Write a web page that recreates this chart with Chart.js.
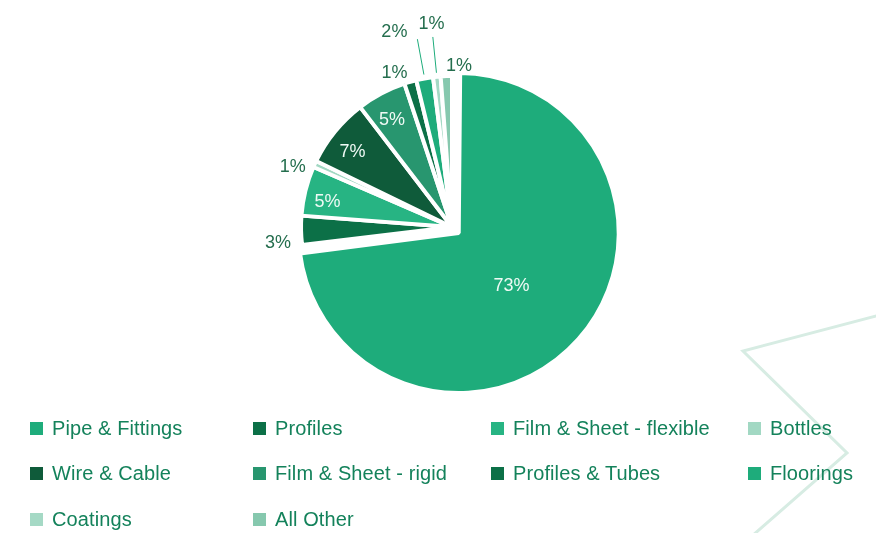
<!DOCTYPE html>
<html>
<head>
<meta charset="utf-8">
<title>PVC applications</title>
<script src="https://cdn.jsdelivr.net/npm/chart.js@4.4.1/dist/chart.umd.min.js"></script>
<style>
  html, body { margin: 0; padding: 0; background: #fff; }
  body { width: 876px; height: 533px; position: relative; overflow: hidden; font-family: "Liberation Sans", Arial, Helvetica, sans-serif; }
  #deco { position: absolute; left: 0; top: 0; z-index: 0; }
  #wrap { position: absolute; left: 0; top: 0; width: 876px; height: 533px; z-index: 1; }
  #legend { position: absolute; left: 30px; top: 417px; z-index: 2; display: grid;
    grid-template-columns: 223px 238px 257px 120px; row-gap: 23.5px; }
  .item { display: flex; align-items: center; height: 22px; white-space: nowrap;
    font-size: 20px; letter-spacing: 0.1px; color: #14825b; }
  .item i { display: inline-block; width: 13px; height: 13px; margin-right: 9px; flex: none; }
</style>
</head>
<body>
<svg id="deco" width="876" height="533">
  <polyline points="880,315 743,351 847,453 752,536" fill="none" stroke="#d7ece3" stroke-width="3"/>
</svg>
<div id="wrap"><canvas id="pie"></canvas></div>
<div id="legend"></div>
<script>
/* ---- data ---- */
const categories = ['Pipe & Fittings', 'Profiles', 'Film & Sheet - flexible', 'Bottles', 'Wire & Cable',
  'Film & Sheet - rigid', 'Profiles & Tubes', 'Floorings', 'Coatings', 'All Other'];
const shares = [73.1, 3.1, 5.3, 0.7, 7.4, 5.3, 1.3, 1.8, 0.8, 1.2];

/* ---- style ---- */
const sliceColors = ['#1eac7b', '#0c7047', '#27b483', '#a2d8c3', '#0f5b3a',
  '#28966f', '#0c7047', '#1eac7b', '#a5d9c5', '#86c8ae'];
const sliceOffsets = [36, 0, 0, 0, 0, 0, 0, 0, 0, 0];
const withLeader = [false, false, false, false, false, false, false, true, true, false];
const LABEL_FONT = '18px "Liberation Sans", Arial, sans-serif';

/* Percent labels: inside for big slices, outside (some with a leader line) for thin ones */
const sliceLabels = {
  id: 'sliceLabels',
  afterDatasetsDraw(chart) {
    const ctx = chart.ctx;
    const meta = chart.getDatasetMeta(0);
    ctx.save();
    ctx.font = LABEL_FONT;
    ctx.textBaseline = 'middle';
    meta.data.forEach((arc, i) => {
      const v = shares[i];
      const p = arc.getProps(['x', 'y', 'startAngle', 'endAngle', 'outerRadius'], true);
      const mid = (p.startAngle + p.endAngle) / 2;
      const cos = Math.cos(mid), sin = Math.sin(mid);
      const off = (arc.options.offset || 0) / 4;
      const cx = p.x + cos * off, cy = p.y + sin * off;
      const R = p.outerRadius;
      const text = Math.round(v) + '%';
      const leftSide = cos < -0.15;
      if (v >= 4) {
        const r = v > 50 ? (R + off) * 0.44 : R * 0.85;
        ctx.textAlign = 'center';
        ctx.fillStyle = '#effaf5';
        ctx.fillText(text, cx + cos * r, cy + sin * r + 6);
      } else if (withLeader[i]) {
        const ex = cx + cos * (R + 40), ey = cy + sin * (R + 40);
        ctx.strokeStyle = '#1eac7b';
        ctx.lineWidth = 1;
        ctx.beginPath();
        ctx.moveTo(cx + cos * (R + 4), cy + sin * (R + 4));
        ctx.lineTo(ex, ey);
        ctx.stroke();
        ctx.fillStyle = '#246e4e';
        if (leftSide) {
          ctx.textAlign = 'right';
          ctx.fillText(text, ex - 10, ey - 7);
        } else {
          ctx.textAlign = 'center';
          ctx.fillText(text, ex + cos * 13, ey + sin * 13);
        }
      } else {
        ctx.textAlign = leftSide ? 'right' : 'left';
        ctx.fillStyle = '#246e4e';
        ctx.fillText(text, cx + cos * (R + 10), cy + sin * (R + 10) + 12 * (1 + sin));
      }
    });
    ctx.restore();
  }
};

new Chart(document.getElementById('pie'), {
  type: 'pie',
  data: {
    labels: categories,
    datasets: [{
      data: shares,
      backgroundColor: sliceColors,
      borderColor: '#ffffff',
      borderWidth: 4,
      offset: sliceOffsets,
      hoverOffset: 0,
    }]
  },
  options: {
    responsive: true, maintainAspectRatio: false,
    animation: false,
    radius: 151,
    layout: { padding: { top: 60, bottom: 139, left: 100, right: 72 } },
    plugins: { legend: { display: false }, tooltip: { enabled: false } }
  },
  plugins: [sliceLabels]
});

/* HTML legend in a four-column grid */
const legend = document.getElementById('legend');
categories.forEach((name, i) => {
  const el = document.createElement('div');
  el.className = 'item';
  el.innerHTML = '<i style="background:' + sliceColors[i] + '"></i><span></span>';
  el.querySelector('span').textContent = name;
  legend.appendChild(el);
});
</script>
</body>
</html>
